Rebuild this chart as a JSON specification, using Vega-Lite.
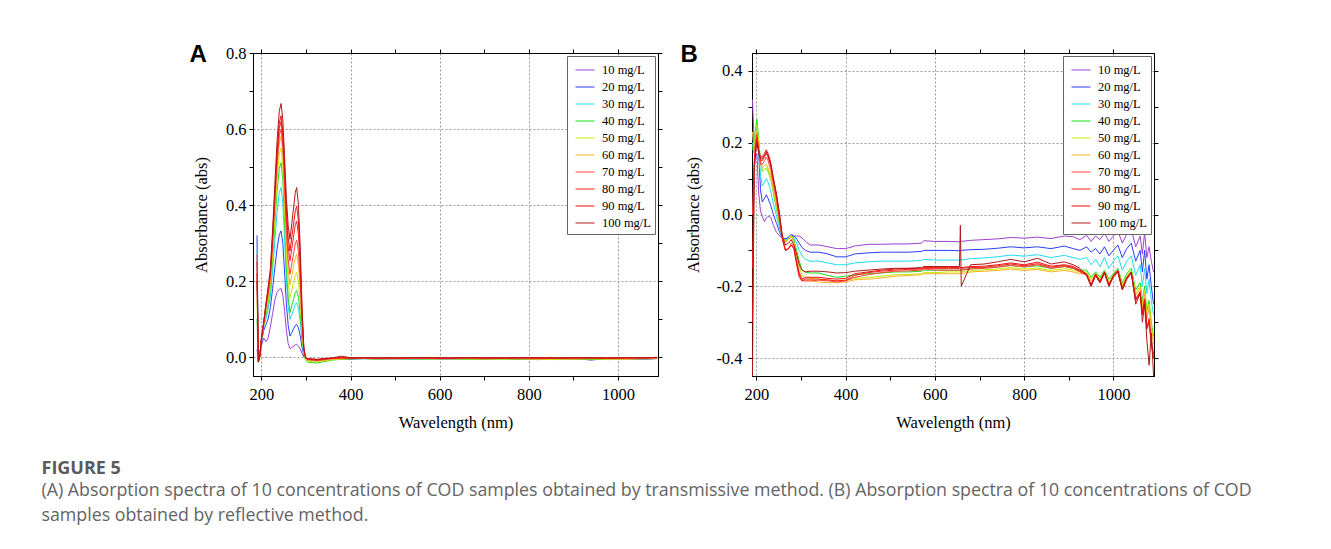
{
"$schema": "https://vega.github.io/schema/vega-lite/v6.json",
"background": "white",
"padding": {"left": 41, "top": 41, "right": 5, "bottom": 5},
"config": {
  "view": {"stroke": "black", "strokeWidth": 1},
  "axis": {"labelFont": "Liberation Serif", "titleFont": "Liberation Serif", "labelFontSize": 16.5, "titleFontSize": 16.5, "titleFontWeight": "normal", "labelColor": "black", "titleColor": "black", "domainColor": "black", "tickColor": "black", "tickSize": 4, "gridColor": "#9a9a9a", "gridDash": [2, 2], "gridWidth": 1},
  "legend": {"orient": "top-right", "offset": 3, "title": null, "labelFont": "Liberation Serif", "labelFontSize": 12.5, "labelColor": "black", "symbolType": "stroke", "symbolStrokeWidth": 2, "symbolSize": 361, "strokeColor": "#666", "fillColor": "white", "padding": 4, "rowPadding": -4, "labelOffset": 7, "symbolOffset": 4},
  "line": {"strokeWidth": 1, "clip": true}
},
"title": {"text": "FIGURE 5", "subtitle": ["(A) Absorption spectra of 10 concentrations of COD samples obtained by transmissive method. (B) Absorption spectra of 10 concentrations of COD", "samples obtained by reflective method."], "orient": "bottom", "anchor": "start", "frame": "bounds", "font": "Open Sans", "fontSize": 18, "fontWeight": "bold", "color": "#5a5a5a", "subtitleFont": "Open Sans", "subtitleFontSize": 17.8, "subtitleColor": "#646464", "subtitleLineHeight": 25, "subtitlePadding": 4, "offset": 28, "dx": -147},
"datasets": {
"A": [
{"w":190,"10":0.02,"20":0.32,"30":0.28,"40":0.1,"50":0.15,"60":0.2,"70":0.27,"80":0.25,"90":0.22,"100":0.2},
{"w":193,"10":-0.01,"20":-0.01,"30":-0.012,"40":-0.012,"50":-0.012,"60":-0.012,"70":-0.013,"80":-0.013,"90":-0.013,"100":-0.014},
{"w":196,"10":0,"20":0,"30":0,"40":0,"50":0,"60":0,"70":0,"80":0,"90":0,"100":0},
{"w":200,"10":0.03,"20":0.04,"30":0.045,"40":0.045,"50":0.046,"60":0.047,"70":0.048,"80":0.048,"90":0.049,"100":0.05},
{"w":205,"10":0.05,"20":0.07,"30":0.08,"40":0.083,"50":0.085,"60":0.087,"70":0.088,"80":0.09,"90":0.09,"100":0.092},
{"w":210,"10":0.04,"20":0.085,"30":0.1,"40":0.11,"50":0.12,"60":0.125,"70":0.13,"80":0.135,"90":0.138,"100":0.14},
{"w":215,"10":0.05,"20":0.1,"30":0.125,"40":0.14,"50":0.15,"60":0.16,"70":0.168,"80":0.174,"90":0.178,"100":0.185},
{"w":220,"10":0.08,"20":0.13,"30":0.16,"40":0.18,"50":0.193,"60":0.203,"70":0.21,"80":0.217,"90":0.222,"100":0.233},
{"w":225,"10":0.115,"20":0.18,"30":0.225,"40":0.255,"50":0.275,"60":0.29,"70":0.3,"80":0.31,"90":0.318,"100":0.334},
{"w":230,"10":0.15,"20":0.235,"30":0.305,"40":0.35,"50":0.374,"60":0.394,"70":0.408,"80":0.422,"90":0.432,"100":0.454},
{"w":235,"10":0.17,"20":0.285,"30":0.38,"40":0.435,"50":0.468,"60":0.493,"70":0.51,"80":0.527,"90":0.54,"100":0.567},
{"w":240,"10":0.178,"20":0.322,"30":0.433,"40":0.496,"50":0.534,"60":0.563,"70":0.582,"80":0.601,"90":0.616,"100":0.647},
{"w":244,"10":0.18,"20":0.332,"30":0.446,"40":0.511,"50":0.55,"60":0.58,"70":0.6,"80":0.62,"90":0.635,"100":0.667},
{"w":248,"10":0.162,"20":0.299,"30":0.404,"40":0.464,"50":0.503,"60":0.533,"70":0.554,"80":0.576,"90":0.592,"100":0.624},
{"w":252,"10":0.12,"20":0.221,"30":0.307,"40":0.353,"50":0.392,"60":0.424,"70":0.447,"80":0.473,"90":0.493,"100":0.524},
{"w":256,"10":0.07,"20":0.138,"30":0.203,"40":0.235,"50":0.274,"60":0.307,"70":0.333,"80":0.363,"90":0.386,"100":0.417},
{"w":260,"10":0.035,"20":0.083,"30":0.134,"40":0.156,"50":0.195,"60":0.229,"70":0.256,"80":0.29,"90":0.315,"100":0.346},
{"w":264,"10":0.022,"20":0.055,"30":0.099,"40":0.117,"50":0.156,"60":0.19,"70":0.218,"80":0.253,"90":0.279,"100":0.31},
{"w":268,"10":0.025,"20":0.064,"30":0.112,"40":0.135,"50":0.176,"60":0.214,"70":0.245,"80":0.285,"90":0.314,"100":0.351},
{"w":272,"10":0.028,"20":0.074,"30":0.125,"40":0.152,"50":0.196,"60":0.238,"70":0.272,"80":0.316,"90":0.35,"100":0.392},
{"w":276,"10":0.032,"20":0.083,"30":0.139,"40":0.17,"50":0.215,"60":0.262,"70":0.299,"80":0.348,"90":0.385,"100":0.433},
{"w":279,"10":0.033,"20":0.086,"30":0.143,"40":0.175,"50":0.222,"60":0.27,"70":0.308,"80":0.358,"90":0.397,"100":0.446},
{"w":283,"10":0.029,"20":0.077,"30":0.128,"40":0.157,"50":0.2,"60":0.243,"70":0.277,"80":0.322,"90":0.357,"100":0.401},
{"w":287,"10":0.021,"20":0.056,"30":0.093,"40":0.114,"50":0.144,"60":0.176,"70":0.2,"80":0.233,"90":0.258,"100":0.29},
{"w":291,"10":0.01,"20":0.026,"30":0.043,"40":0.053,"50":0.067,"60":0.081,"70":0.093,"80":0.107,"90":0.119,"100":0.134},
{"w":295,"10":0,"20":0.005,"30":0.009,"40":0.01,"50":0.013,"60":0.016,"70":0.018,"80":0.021,"90":0.024,"100":0.027},
{"w":299,"10":-0.004,"20":-0.004,"30":-0.005,"40":-0.008,"50":-0.006,"60":-0.004,"70":-0.003,"80":-0.002,"90":-0.002,"100":-0.002},
{"w":303,"10":-0.006,"20":-0.007,"30":-0.01,"40":-0.013,"50":-0.011,"60":-0.009,"70":-0.006,"80":-0.005,"90":-0.004,"100":-0.004},
{"w":308,"10":-0.006,"20":-0.008,"30":-0.011,"40":-0.015,"50":-0.012,"60":-0.01,"70":-0.007,"80":-0.006,"90":-0.005,"100":-0.005},
{"w":315,"10":-0.006,"20":-0.008,"30":-0.01,"40":-0.015,"50":-0.012,"60":-0.01,"70":-0.008,"80":-0.007,"90":-0.006,"100":-0.005},
{"w":325,"10":-0.007,"20":-0.009,"30":-0.011,"40":-0.016,"50":-0.013,"60":-0.011,"70":-0.009,"80":-0.008,"90":-0.007,"100":-0.006},
{"w":340,"10":-0.006,"20":-0.007,"30":-0.008,"40":-0.012,"50":-0.01,"60":-0.009,"70":-0.007,"80":-0.006,"90":-0.005,"100":-0.004},
{"w":360,"10":-0.005,"20":-0.006,"30":-0.006,"40":-0.008,"50":-0.007,"60":-0.006,"70":-0.004,"80":-0.003,"90":-0.003,"100":-0.002},
{"w":380,"10":-0.004,"20":-0.005,"30":-0.005,"40":-0.006,"50":-0.005,"60":-0.005,"70":-0.003,"80":-0.002,"90":-0.001,"100":0.002},
{"w":400,"10":-0.005,"20":-0.005,"30":-0.004,"40":-0.005,"50":-0.004,"60":-0.004,"70":-0.003,"80":-0.003,"90":-0.003,"100":-0.002},
{"w":430,"10":-0.004,"20":-0.004,"30":-0.005,"40":-0.004,"50":-0.004,"60":-0.004,"70":-0.003,"80":-0.002,"90":-0.002,"100":-0.002},
{"w":460,"10":-0.005,"20":-0.005,"30":-0.004,"40":-0.005,"50":-0.005,"60":-0.004,"70":-0.004,"80":-0.003,"90":-0.002,"100":-0.002},
{"w":500,"10":-0.004,"20":-0.005,"30":-0.005,"40":-0.004,"50":-0.004,"60":-0.005,"70":-0.003,"80":-0.003,"90":-0.003,"100":-0.002},
{"w":540,"10":-0.005,"20":-0.004,"30":-0.005,"40":-0.005,"50":-0.004,"60":-0.004,"70":-0.003,"80":-0.002,"90":-0.002,"100":-0.002},
{"w":580,"10":-0.004,"20":-0.005,"30":-0.004,"40":-0.005,"50":-0.005,"60":-0.004,"70":-0.003,"80":-0.003,"90":-0.002,"100":-0.002},
{"w":620,"10":-0.005,"20":-0.005,"30":-0.005,"40":-0.004,"50":-0.004,"60":-0.005,"70":-0.004,"80":-0.003,"90":-0.003,"100":-0.002},
{"w":660,"10":-0.004,"20":-0.004,"30":-0.005,"40":-0.006,"50":-0.005,"60":-0.004,"70":-0.003,"80":-0.002,"90":-0.002,"100":-0.002},
{"w":700,"10":-0.005,"20":-0.006,"30":-0.004,"40":-0.005,"50":-0.005,"60":-0.005,"70":-0.003,"80":-0.003,"90":-0.002,"100":-0.002},
{"w":740,"10":-0.004,"20":-0.005,"30":-0.006,"40":-0.004,"50":-0.006,"60":-0.004,"70":-0.004,"80":-0.003,"90":-0.003,"100":-0.002},
{"w":780,"10":-0.006,"20":-0.004,"30":-0.005,"40":-0.006,"50":-0.004,"60":-0.005,"70":-0.003,"80":-0.002,"90":-0.002,"100":-0.002},
{"w":820,"10":-0.004,"20":-0.007,"30":-0.004,"40":-0.005,"50":-0.005,"60":-0.006,"70":-0.003,"80":-0.003,"90":-0.002,"100":-0.002},
{"w":860,"10":-0.005,"20":-0.005,"30":-0.006,"40":-0.004,"50":-0.007,"60":-0.004,"70":-0.004,"80":-0.003,"90":-0.003,"100":-0.002},
{"w":900,"10":-0.006,"20":-0.004,"30":-0.005,"40":-0.005,"50":-0.004,"60":-0.006,"70":-0.003,"80":-0.002,"90":-0.002,"100":-0.002},
{"w":940,"10":-0.004,"20":-0.008,"30":-0.004,"40":-0.007,"50":-0.005,"60":-0.004,"70":-0.003,"80":-0.003,"90":-0.002,"100":-0.002},
{"w":980,"10":-0.005,"20":-0.004,"30":-0.007,"40":-0.004,"50":-0.006,"60":-0.005,"70":-0.004,"80":-0.003,"90":-0.003,"100":-0.002},
{"w":1020,"10":-0.004,"20":-0.005,"30":-0.004,"40":-0.005,"50":-0.004,"60":-0.006,"70":-0.003,"80":-0.002,"90":-0.002,"100":-0.002},
{"w":1060,"10":-0.005,"20":-0.006,"30":-0.005,"40":-0.004,"50":-0.005,"60":-0.004,"70":-0.003,"80":-0.003,"90":-0.002,"100":-0.002},
{"w":1088,"10":-0.004,"20":-0.004,"30":-0.004,"40":-0.004,"50":-0.004,"60":-0.004,"70":-0.002,"80":-0.002,"90":-0.001,"100":-0.001}
],
"B": [
{"w":191,"10":0.32,"20":0.23,"30":0.2,"40":0.18,"50":0.19,"60":0.23,"70":0.0,"80":-0.15,"90":-0.3,"100":-0.45},
{"w":195,"10":0.2,"20":0.18,"30":0.17,"40":0.2,"50":0.19,"60":0.18,"70":0.15,"80":0.14,"90":0.13,"100":0.12},
{"w":198,"10":0.16,"20":0.22,"30":0.21,"40":0.24,"50":0.23,"60":0.21,"70":0.2,"80":0.19,"90":0.18,"100":0.17},
{"w":201,"10":0.17,"20":0.25,"30":0.245,"40":0.265,"50":0.25,"60":0.235,"70":0.225,"80":0.215,"90":0.205,"100":0.2},
{"w":205,"10":0.06,"20":0.17,"30":0.19,"40":0.21,"50":0.2,"60":0.19,"70":0.18,"80":0.18,"90":0.18,"100":0.17},
{"w":209,"10":0.01,"20":0.07,"30":0.11,"40":0.15,"50":0.15,"60":0.15,"70":0.14,"80":0.15,"90":0.16,"100":0.155},
{"w":213,"10":-0.005,"20":0.035,"30":0.08,"40":0.12,"50":0.12,"60":0.13,"70":0.14,"80":0.15,"90":0.16,"100":0.155},
{"w":218,"10":-0.02,"20":0.045,"30":0.09,"40":0.125,"50":0.125,"60":0.135,"70":0.15,"80":0.16,"90":0.17,"100":0.165},
{"w":222,"10":-0.01,"20":0.055,"30":0.1,"40":0.13,"50":0.13,"60":0.14,"70":0.16,"80":0.17,"90":0.18,"100":0.175},
{"w":226,"10":-0.005,"20":0.045,"30":0.09,"40":0.12,"50":0.122,"60":0.13,"70":0.15,"80":0.16,"90":0.17,"100":0.165},
{"w":232,"10":-0.008,"20":0.025,"30":0.065,"40":0.1,"50":0.1,"60":0.11,"70":0.125,"80":0.135,"90":0.145,"100":0.14},
{"w":238,"10":-0.03,"20":0.0,"30":0.03,"40":0.06,"50":0.065,"60":0.075,"70":0.085,"80":0.095,"90":0.1,"100":0.1},
{"w":245,"10":-0.05,"20":-0.025,"30":-0.005,"40":0.015,"50":0.02,"60":0.03,"70":0.04,"80":0.05,"90":0.055,"100":0.055},
{"w":252,"10":-0.06,"20":-0.05,"30":-0.04,"40":-0.03,"50":-0.025,"60":-0.02,"70":-0.02,"80":-0.01,"90":-0.005,"100":0.0},
{"w":258,"10":-0.065,"20":-0.065,"30":-0.065,"40":-0.065,"50":-0.062,"60":-0.06,"70":-0.07,"80":-0.065,"90":-0.065,"100":-0.06},
{"w":265,"10":-0.068,"20":-0.068,"30":-0.072,"40":-0.075,"50":-0.075,"60":-0.078,"70":-0.1,"80":-0.1,"90":-0.1,"100":-0.085},
{"w":272,"10":-0.065,"20":-0.063,"30":-0.065,"40":-0.068,"50":-0.068,"60":-0.07,"70":-0.095,"80":-0.095,"90":-0.095,"100":-0.08},
{"w":278,"10":-0.058,"20":-0.055,"30":-0.058,"40":-0.058,"50":-0.058,"60":-0.06,"70":-0.08,"80":-0.085,"90":-0.085,"100":-0.07},
{"w":284,"10":-0.06,"20":-0.06,"30":-0.065,"40":-0.07,"50":-0.075,"60":-0.08,"70":-0.09,"80":-0.095,"90":-0.095,"100":-0.085},
{"w":290,"10":-0.06,"20":-0.068,"30":-0.08,"40":-0.1,"50":-0.11,"60":-0.12,"70":-0.13,"80":-0.14,"90":-0.135,"100":-0.11},
{"w":296,"10":-0.06,"20":-0.08,"30":-0.1,"40":-0.13,"50":-0.145,"60":-0.16,"70":-0.17,"80":-0.175,"90":-0.165,"100":-0.14},
{"w":302,"10":-0.065,"20":-0.092,"30":-0.115,"40":-0.155,"50":-0.17,"60":-0.18,"70":-0.185,"80":-0.185,"90":-0.18,"100":-0.155},
{"w":310,"10":-0.075,"20":-0.1,"30":-0.125,"40":-0.16,"50":-0.175,"60":-0.185,"70":-0.185,"80":-0.18,"90":-0.175,"100":-0.16},
{"w":320,"10":-0.085,"20":-0.105,"30":-0.13,"40":-0.163,"50":-0.178,"60":-0.185,"70":-0.185,"80":-0.18,"90":-0.175,"100":-0.158},
{"w":340,"10":-0.085,"20":-0.105,"30":-0.13,"40":-0.163,"50":-0.18,"60":-0.188,"70":-0.183,"80":-0.18,"90":-0.175,"100":-0.158},
{"w":360,"10":-0.09,"20":-0.11,"30":-0.135,"40":-0.17,"50":-0.183,"60":-0.19,"70":-0.185,"80":-0.182,"90":-0.178,"100":-0.16},
{"w":380,"10":-0.095,"20":-0.118,"30":-0.14,"40":-0.175,"50":-0.185,"60":-0.19,"70":-0.188,"80":-0.185,"90":-0.18,"100":-0.163},
{"w":400,"10":-0.095,"20":-0.118,"30":-0.14,"40":-0.172,"50":-0.183,"60":-0.188,"70":-0.185,"80":-0.183,"90":-0.178,"100":-0.162},
{"w":420,"10":-0.088,"20":-0.11,"30":-0.135,"40":-0.168,"50":-0.178,"60":-0.182,"70":-0.175,"80":-0.17,"90":-0.165,"100":-0.158},
{"w":450,"10":-0.083,"20":-0.107,"30":-0.132,"40":-0.165,"50":-0.175,"60":-0.18,"70":-0.168,"80":-0.162,"90":-0.16,"100":-0.155},
{"w":480,"10":-0.083,"20":-0.105,"30":-0.13,"40":-0.163,"50":-0.172,"60":-0.177,"70":-0.162,"80":-0.158,"90":-0.155,"100":-0.152},
{"w":510,"10":-0.082,"20":-0.105,"30":-0.13,"40":-0.16,"50":-0.168,"60":-0.172,"70":-0.158,"80":-0.155,"90":-0.152,"100":-0.15},
{"w":540,"10":-0.082,"20":-0.105,"30":-0.13,"40":-0.16,"50":-0.167,"60":-0.17,"70":-0.157,"80":-0.153,"90":-0.15,"100":-0.15},
{"w":570,"10":-0.08,"20":-0.103,"30":-0.128,"40":-0.158,"50":-0.165,"60":-0.168,"70":-0.155,"80":-0.152,"90":-0.15,"100":-0.148},
{"w":575,"10":-0.073,"20":-0.1,"30":-0.125,"40":-0.155,"50":-0.162,"60":-0.165,"70":-0.152,"80":-0.15,"90":-0.148,"100":-0.145},
{"w":600,"10":-0.075,"20":-0.1,"30":-0.127,"40":-0.155,"50":-0.162,"60":-0.165,"70":-0.155,"80":-0.15,"90":-0.148,"100":-0.145},
{"w":630,"10":-0.075,"20":-0.1,"30":-0.127,"40":-0.155,"50":-0.16,"60":-0.165,"70":-0.155,"80":-0.15,"90":-0.148,"100":-0.145},
{"w":655,"10":-0.076,"20":-0.101,"30":-0.127,"40":-0.155,"50":-0.16,"60":-0.165,"70":-0.155,"80":-0.15,"90":-0.148,"100":-0.145},
{"w":657,"10":-0.075,"20":-0.1,"30":-0.127,"40":-0.155,"50":-0.16,"60":-0.165,"70":-0.155,"80":-0.15,"90":-0.148,"100":-0.03},
{"w":659,"10":-0.075,"20":-0.1,"30":-0.127,"40":-0.155,"50":-0.16,"60":-0.165,"70":-0.155,"80":-0.15,"90":-0.148,"100":-0.2},
{"w":680,"10":-0.072,"20":-0.098,"30":-0.123,"40":-0.15,"50":-0.156,"60":-0.16,"70":-0.152,"80":-0.148,"90":-0.145,"100":-0.14},
{"w":710,"10":-0.07,"20":-0.097,"30":-0.121,"40":-0.148,"50":-0.154,"60":-0.158,"70":-0.15,"80":-0.147,"90":-0.144,"100":-0.138},
{"w":740,"10":-0.068,"20":-0.094,"30":-0.118,"40":-0.146,"50":-0.152,"60":-0.156,"70":-0.147,"80":-0.143,"90":-0.14,"100":-0.132},
{"w":770,"10":-0.064,"20":-0.09,"30":-0.113,"40":-0.142,"50":-0.148,"60":-0.152,"70":-0.142,"80":-0.138,"90":-0.135,"100":-0.125},
{"w":800,"10":-0.066,"20":-0.093,"30":-0.116,"40":-0.146,"50":-0.152,"60":-0.156,"70":-0.146,"80":-0.143,"90":-0.14,"100":-0.132},
{"w":830,"10":-0.063,"20":-0.09,"30":-0.112,"40":-0.143,"50":-0.149,"60":-0.153,"70":-0.14,"80":-0.137,"90":-0.133,"100":-0.122},
{"w":860,"10":-0.067,"20":-0.095,"30":-0.12,"40":-0.15,"50":-0.156,"60":-0.16,"70":-0.15,"80":-0.147,"90":-0.144,"100":-0.138},
{"w":890,"10":-0.06,"20":-0.088,"30":-0.114,"40":-0.145,"50":-0.151,"60":-0.156,"70":-0.145,"80":-0.142,"90":-0.14,"100":-0.132},
{"w":910,"10":-0.062,"20":-0.095,"30":-0.12,"40":-0.15,"50":-0.155,"60":-0.16,"70":-0.15,"80":-0.148,"90":-0.145,"100":-0.14},
{"w":925,"10":-0.07,"20":-0.1,"30":-0.125,"40":-0.155,"50":-0.16,"60":-0.165,"70":-0.16,"80":-0.158,"90":-0.155,"100":-0.15},
{"w":940,"10":-0.058,"20":-0.09,"30":-0.12,"40":-0.155,"50":-0.16,"60":-0.165,"70":-0.17,"80":-0.168,"90":-0.165,"100":-0.17},
{"w":950,"10":-0.075,"20":-0.105,"30":-0.14,"40":-0.175,"50":-0.18,"60":-0.185,"70":-0.2,"80":-0.198,"90":-0.195,"100":-0.2},
{"w":960,"10":-0.06,"20":-0.095,"30":-0.125,"40":-0.16,"50":-0.165,"60":-0.17,"70":-0.17,"80":-0.168,"90":-0.165,"100":-0.17},
{"w":970,"10":-0.07,"20":-0.11,"30":-0.145,"40":-0.175,"50":-0.18,"60":-0.185,"70":-0.19,"80":-0.188,"90":-0.185,"100":-0.19},
{"w":980,"10":-0.052,"20":-0.09,"30":-0.12,"40":-0.155,"50":-0.16,"60":-0.165,"70":-0.165,"80":-0.162,"90":-0.16,"100":-0.16},
{"w":990,"10":-0.075,"20":-0.115,"30":-0.15,"40":-0.18,"50":-0.185,"60":-0.19,"70":-0.2,"80":-0.198,"90":-0.195,"100":-0.2},
{"w":1000,"10":-0.06,"20":-0.1,"30":-0.13,"40":-0.165,"50":-0.17,"60":-0.175,"70":-0.175,"80":-0.172,"90":-0.17,"100":-0.17},
{"w":1010,"10":-0.045,"20":-0.085,"30":-0.115,"40":-0.15,"50":-0.155,"60":-0.16,"70":-0.16,"80":-0.158,"90":-0.155,"100":-0.16},
{"w":1020,"10":-0.08,"20":-0.12,"30":-0.155,"40":-0.19,"50":-0.195,"60":-0.2,"70":-0.21,"80":-0.208,"90":-0.205,"100":-0.21},
{"w":1030,"10":-0.055,"20":-0.095,"30":-0.13,"40":-0.165,"50":-0.17,"60":-0.175,"70":-0.18,"80":-0.178,"90":-0.175,"100":-0.18},
{"w":1040,"10":-0.04,"20":-0.08,"30":-0.115,"40":-0.15,"50":-0.155,"60":-0.16,"70":-0.165,"80":-0.162,"90":-0.16,"100":-0.16},
{"w":1050,"10":-0.09,"20":-0.13,"30":-0.17,"40":-0.21,"50":-0.22,"60":-0.225,"70":-0.24,"80":-0.238,"90":-0.235,"100":-0.25},
{"w":1060,"10":-0.06,"20":-0.1,"30":-0.14,"40":-0.19,"50":-0.2,"60":-0.205,"70":-0.22,"80":-0.218,"90":-0.215,"100":-0.22},
{"w":1065,"10":-0.11,"20":-0.16,"30":-0.2,"40":-0.24,"50":-0.25,"60":-0.26,"70":-0.28,"80":-0.278,"90":-0.275,"100":-0.3},
{"w":1070,"10":-0.05,"20":-0.1,"30":-0.15,"40":-0.2,"50":-0.21,"60":-0.22,"70":-0.24,"80":-0.238,"90":-0.235,"100":-0.25},
{"w":1075,"10":-0.12,"20":-0.18,"30":-0.22,"40":-0.27,"50":-0.28,"60":-0.29,"70":-0.32,"80":-0.318,"90":-0.315,"100":-0.35},
{"w":1080,"10":-0.09,"20":-0.14,"30":-0.18,"40":-0.24,"50":-0.25,"60":-0.26,"70":-0.3,"80":-0.3,"90":-0.29,"100":-0.42},
{"w":1085,"10":-0.13,"20":-0.2,"30":-0.24,"40":-0.3,"50":-0.31,"60":-0.32,"70":-0.36,"80":-0.36,"90":-0.35,"100":-0.33},
{"w":1090,"10":-0.16,"20":-0.25,"30":-0.28,"40":-0.34,"50":-0.35,"60":-0.36,"70":-0.4,"80":-0.4,"90":-0.39,"100":-0.45}
]
},
"spacing": 16,
"resolve": {"scale": {"color": "independent"}, "legend": {"color": "independent"}},
"hconcat": [
{
  "width": 405, "height": 323,
  "layer": [
    {
      "data": {"name": "A"},
      "transform": [{"fold": ["10","20","30","40","50","60","70","80","90","100"], "as": ["c", "a"]}],
      "mark": {"type": "line", "strokeWidth": 1, "clip": true},
      "encoding": {
        "x": {"field": "w", "type": "quantitative", "scale": {"domain": [181, 1090], "nice": false, "zero": false},
              "axis": {"title": "Wavelength (nm)", "format": "d", "values": [200,300,400,500,600,700,800,900,1000], "labelExpr": "datum.value % 200 == 0 ? datum.label : ''", "grid": true, "gridOpacity": {"condition": {"test": "datum.value % 200 == 0", "value": 1}, "value": 0}, "labelPadding": 6, "titlePadding": 12}},
        "y": {"field": "a", "type": "quantitative", "scale": {"domain": [-0.05, 0.8], "nice": false, "zero": false},
              "axis": {"title": "Absorbance (abs)", "values": [0,0.1,0.2,0.3,0.4,0.5,0.6,0.7,0.8], "labelExpr": "round(datum.value*10) % 2 == 0 ? format(datum.value, '.1f') : ''", "grid": true, "gridOpacity": {"condition": {"test": "round(datum.value*10) % 2 == 0", "value": 1}, "value": 0}, "labelPadding": 3, "titlePadding": 16}},
        "color": {"field": "c", "type": "nominal", "scale": {"domain": ["10","20","30","40","50","60","70","80","90","100"], "range": ["#a040d0","#2a3cff","#20dcf0","#18dd18","#c0ee00","#ffb020","#ff4040","#ff2020","#f01010","#b01818"]},
                  "legend": {"labelExpr": "datum.label + ' mg/L'"}}
      }
    },
    {
      "data": {"values": []},
      "mark": {"type": "point", "opacity": 0},
      "encoding": {
        "x": {"field": "w", "type": "quantitative", "axis": {"orient": "top", "values": [200,300,400,500,600,700,800,900,1000], "labels": false, "grid": false, "title": "A", "titleX": -64, "titleY": 8, "titleAlign": "left", "titleBaseline": "alphabetic", "titleAngle": 0, "titleFont": "Liberation Sans", "titleFontSize": 24, "titleFontWeight": "bold"}},
        "y": {"field": "a", "type": "quantitative", "axis": {"orient": "right", "values": [0,0.1,0.2,0.3,0.4,0.5,0.6,0.7,0.8], "labels": false, "title": null, "grid": false}}
      }
    }
  ],
  "resolve": {"axis": {"x": "independent", "y": "independent"}}
},
{
  "width": 402, "height": 323,
  "layer": [
    {
      "data": {"name": "B"},
      "transform": [{"fold": ["10","20","30","40","50","60","70","80","90","100"], "as": ["c", "a"]}],
      "mark": {"type": "line", "strokeWidth": 1, "clip": true},
      "encoding": {
        "x": {"field": "w", "type": "quantitative", "scale": {"domain": [190, 1091], "nice": false, "zero": false},
              "axis": {"title": "Wavelength (nm)", "format": "d", "values": [200,300,400,500,600,700,800,900,1000], "labelExpr": "datum.value % 200 == 0 ? datum.label : ''", "grid": true, "gridOpacity": {"condition": {"test": "datum.value % 200 == 0", "value": 1}, "value": 0}, "labelPadding": 6, "titlePadding": 12}},
        "y": {"field": "a", "type": "quantitative", "scale": {"domain": [-0.45, 0.45], "nice": false, "zero": false},
              "axis": {"title": "Absorbance (abs)", "values": [-0.4,-0.3,-0.2,-0.1,0,0.1,0.2,0.3,0.4], "labelExpr": "abs(round(datum.value*10)) % 2 == 0 ? replace(format(datum.value, '.1f'), '\u2212', '-') : ''", "grid": true, "gridOpacity": {"condition": {"test": "abs(round(datum.value*10)) % 2 == 0", "value": 1}, "value": 0}, "labelPadding": 6, "titlePadding": 14}},
        "color": {"field": "c", "type": "nominal", "scale": {"domain": ["10","20","30","40","50","60","70","80","90","100"], "range": ["#a040d0","#2a3cff","#20dcf0","#18dd18","#c0ee00","#ffb020","#ff4040","#ff2020","#f01010","#b01818"]},
                  "legend": {"labelExpr": "datum.label + ' mg/L'"}}
      }
    },
    {
      "data": {"values": []},
      "mark": {"type": "point", "opacity": 0},
      "encoding": {
        "x": {"field": "w", "type": "quantitative", "axis": {"orient": "top", "values": [200,300,400,500,600,700,800,900,1000], "labels": false, "grid": false, "title": "B", "titleX": -72, "titleY": 8, "titleAlign": "left", "titleBaseline": "alphabetic", "titleAngle": 0, "titleFont": "Liberation Sans", "titleFontSize": 24, "titleFontWeight": "bold"}},
        "y": {"field": "a", "type": "quantitative", "axis": {"orient": "right", "values": [-0.4,-0.3,-0.2,-0.1,0,0.1,0.2,0.3,0.4], "labels": false, "title": null, "grid": false}}
      }
    }
  ],
  "resolve": {"axis": {"x": "independent", "y": "independent"}}
}
]
}
